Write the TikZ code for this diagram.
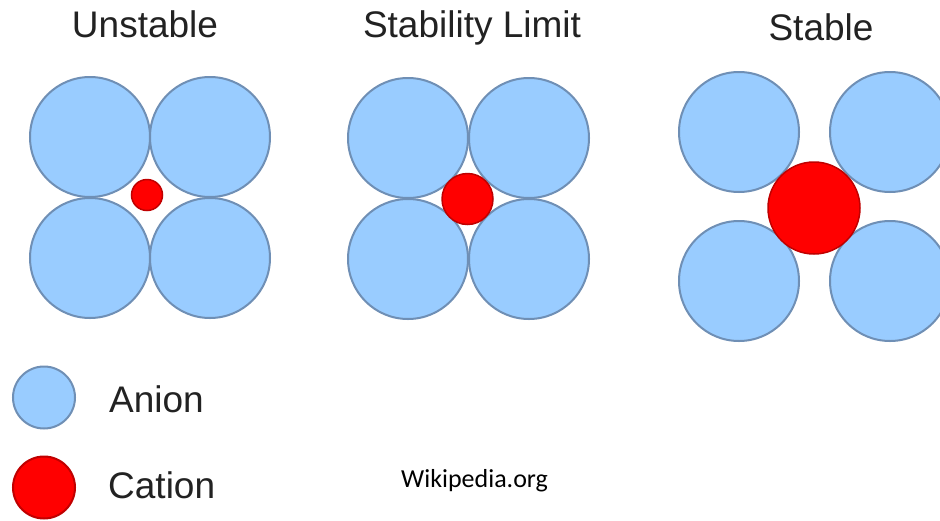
\documentclass[tikz,border=0pt]{standalone}
\usepackage{fontspec}
\setmainfont{Liberation Sans}
\newfontfamily\calib{Carlito}
\definecolor{anionfill}{HTML}{99CCFF}
\definecolor{anionline}{HTML}{6F8FB5}
\definecolor{cationfill}{HTML}{FF0000}
\definecolor{cationline}{HTML}{C00000}
\definecolor{txt}{HTML}{222222}
\begin{document}
\begin{tikzpicture}[x=1pt,y=-1pt,
  anion/.style={circle,draw=anionline,fill=anionfill,line width=2pt,inner sep=0pt,minimum size=#1},
  anion/.default=120pt,
  cation/.style={circle,draw=cationline,fill=cationfill,line width=1.5pt,inner sep=0pt,minimum size=#1},
  title/.style={font=\fontsize{37}{40}\selectfont,text=txt,anchor=base,inner sep=0pt},
  legend/.style={font=\fontsize{37}{40}\selectfont,text=txt,anchor=base west,inner sep=0pt}]
\useasboundingbox (0,0) rectangle (940,520);
\fill[white] (0,0) rectangle (940,520);
% Unstable
\node[anion] (u1) at (90,137) {};
\node[anion] (u2) at (210,137) {};
\node[anion] (u3) at (90,258) {};
\node[anion] (u4) at (210,258) {};
\node[cation=31pt] (uc) at (147,195) {};
\node[title] (ut) at (145,37) {Unstable};
% Stability limit
\node[anion] (s1) at (408,138) {};
\node[anion] (s2) at (529,138) {};
\node[anion] (s3) at (408,259) {};
\node[anion] (s4) at (529,259) {};
\node[cation=51pt] (sc) at (467.5,199) {};
\node[title] (st) at (472,37) {Stability Limit};
% Stable
\node[anion] (t1) at (739,132) {};
\node[anion] (t2) at (890,132) {};
\node[anion] (t3) at (739,281) {};
\node[anion] (t4) at (890,281) {};
\node[cation=92pt] (tc) at (814,208) {};
\node[title] (tt) at (821,40) {Stable};
% Legend
\node[anion=62pt] (la) at (44,397.5) {};
\node[cation=62pt,line width=2pt] (lc) at (44,487.5) {};
\node[legend] (lat) at (109,412) {Anion};
\node[legend] (lct) at (108,498) {Cation};
\node[font=\calib\fontsize{26}{30}\selectfont,anchor=base west,inner sep=0pt,text=black] (wiki) at (401,487) {Wikipedia.org};
\end{tikzpicture}
\end{document}
